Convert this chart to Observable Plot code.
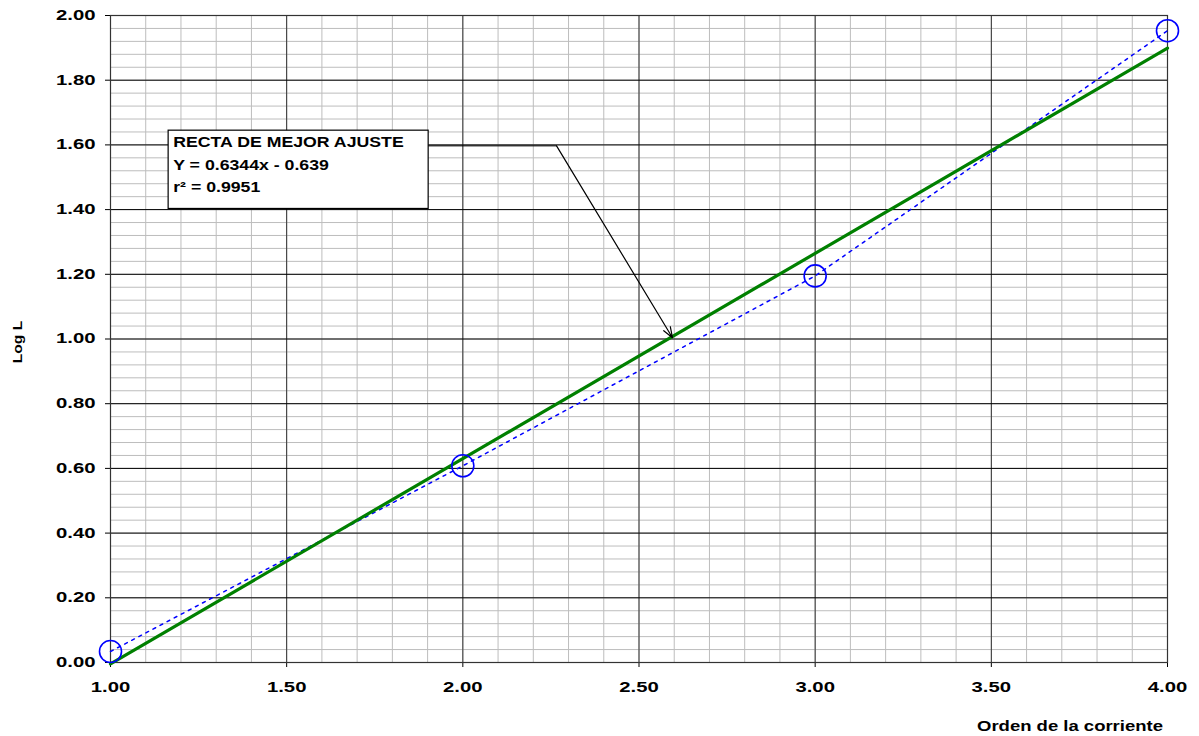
<!DOCTYPE html>
<html>
<head>
<meta charset="utf-8">
<script src="https://cdn.jsdelivr.net/npm/d3@7"></script>
<script src="https://cdn.jsdelivr.net/npm/@observablehq/plot@0.6"></script>
<style>
  html, body { margin: 0; padding: 0; background: #fff; }
  #chart { width: 1199px; height: 736px; position: relative; }
</style>
</head>
<body>
<div id="chart"></div>
<script>
// ---- data ----
const ordenX = [1, 2, 3, 4];
const logL = [0.034, 0.608, 1.195, 1.953];

const xTicks = [1, 1.5, 2, 2.5, 3, 3.5, 4];
const yTicks = [0, 0.2, 0.4, 0.6, 0.8, 1.0, 1.2, 1.4, 1.6, 1.8, 2.0];
const xMinor = d3.range(0, 31).map(i => 1 + i * 0.1);
const yMinor = d3.range(0, 51).map(i => i * 0.04);

// annotation (data units)
const noteBoxX = [1.165, 1.903];
const noteBoxY = [1.402, 1.644];
const noteLines = ["RECTA DE MEJOR AJUSTE", "Y = 0.6344x - 0.639", "r\u00b2 = 0.9951"];
const noteLineY = [1.607, 1.538, 1.470];
const noteTextX = 1.178;
const leaderX = [1.903, 2.266];
const leaderY = [1.597, 1.597];
const arrowTo = [2.595, 1.004];

const yLabel = "Log L";
const xLabel = "Orden de la corriente";

const points = ordenX.map((x, i) => ({x, y: logL[i]}));
const notes = noteLines.map((t, i) => ({t, y: noteLineY[i]}));

const W = 1199, H = 736;
const svg = Plot.plot({
  width: W, height: H,
  marginLeft: 110, marginRight: 32, marginTop: 15, marginBottom: 74,
  style: {fontFamily: "'Liberation Sans', Arial, sans-serif", fontSize: "14px", fontWeight: "bold", color: "#000", background: "#fff"},
  x: {domain: [1, 4], ticks: xTicks, tickFormat: d3.format(".2f"), tickSize: 5, tickPadding: 15, label: null},
  y: {domain: [0, 2], ticks: yTicks, tickFormat: d3.format(".2f"), tickSize: 5, tickPadding: 10, label: null},
  marks: [
    Plot.ruleX(xMinor, {stroke: "#bdbdbd", strokeWidth: 1}),
    Plot.ruleY(yMinor, {stroke: "#bdbdbd", strokeWidth: 1}),
    Plot.ruleX(xTicks, {stroke: "#333", strokeWidth: 1}),
    Plot.ruleY(yTicks, {stroke: "#000", strokeWidth: 1}),
    Plot.frame({stroke: "#333", strokeWidth: 1.2}),
    Plot.line(points, {x: "x", y: "y", stroke: "#0000ff", strokeWidth: 1.5, strokeDasharray: "3,5"}),
    Plot.linearRegressionY(points, {x: "x", y: "y", stroke: "#008000", strokeWidth: 3.2, ci: 0}),
    Plot.dot(points, {x: "x", y: "y", r: 11, stroke: "#0000ff", strokeWidth: 1.6, fill: "none"}),
    Plot.rect([0], {x1: () => noteBoxX[0], x2: () => noteBoxX[1], y1: () => noteBoxY[0], y2: () => noteBoxY[1], fill: "#fff", stroke: "#000", strokeWidth: 1.2, inset: 0}),
    Plot.text(notes, {x: () => noteTextX, y: "y", text: "t", textAnchor: "start", lineAnchor: "middle", fontSize: 15, fontWeight: "bold", fill: "#000"}),
    Plot.line(leaderX.map((x, i) => ({x, y: leaderY[i]})), {x: "x", y: "y", stroke: "#000", strokeWidth: 1}),
    Plot.arrow([0], {x1: () => leaderX[1], y1: () => leaderY[1], x2: () => arrowTo[0], y2: () => arrowTo[1], stroke: "#000", strokeWidth: 1.2, headLength: 14, headAngle: 40})
  ]
});

const chart = document.getElementById("chart");
chart.appendChild(svg);

const s = d3.select(svg);
s.append("text")
  .attr("class", "ylab")
  .attr("transform", "translate(22,342) rotate(-90)")
  .attr("text-anchor", "middle")
  .attr("font-size", 13).attr("font-weight", "bold")
  .attr("fill", "#000")
  .text(yLabel);
s.append("text")
  .attr("class", "xlab")
  .attr("x", 1070).attr("y", 731)
  .attr("text-anchor", "middle")
  .attr("font-size", 14).attr("font-weight", "bold")
  .attr("fill", "#000")
  .text(xLabel);

// horizontally widen glyphs to mimic the reference's stretched rendering
function stretch(sel, f) {
  sel.each(function() {
    const len = this.getComputedTextLength();
    if (len > 0) {
      this.setAttribute("textLength", (len * f).toFixed(1));
      this.setAttribute("lengthAdjust", "spacingAndGlyphs");
    }
  });
}
stretch(s.selectAll("g[aria-label='x-axis tick label'] text, g[aria-label='y-axis tick label'] text"), 1.45);
stretch(s.selectAll("g[aria-label='text'] text"), 1.18);
stretch(s.select("text.xlab"), 1.32);
stretch(s.select("text.ylab"), 1.2);
</script>
</body>
</html>
